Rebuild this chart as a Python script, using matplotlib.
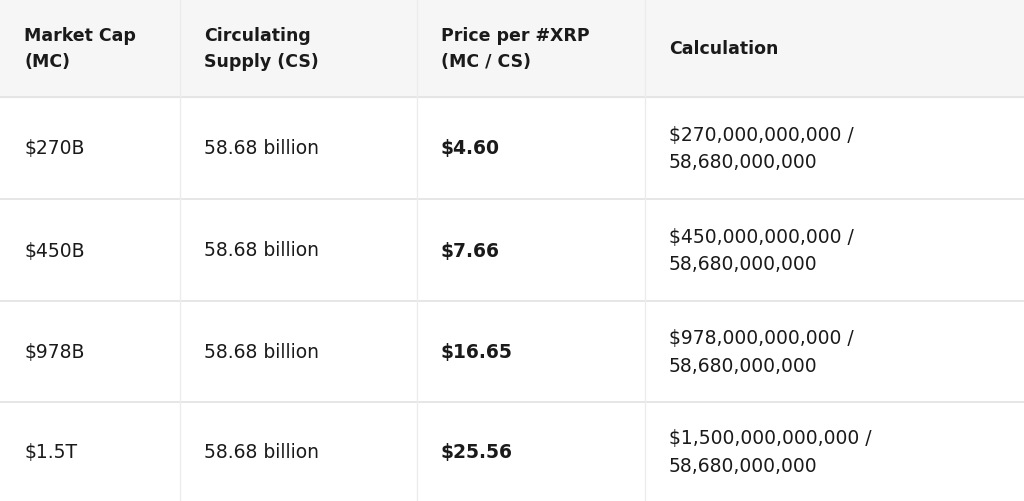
import matplotlib.pyplot as plt
from matplotlib.patches import Rectangle

headers = ["Market Cap\n(MC)", "Circulating\nSupply (CS)", "Price per #XRP\n(MC / CS)", "Calculation"]
market_caps = ["$270B", "$450B", "$978B", "$1.5T"]
supply = ["58.68 billion"] * 4
prices = ["$4.60", "$7.66", "$16.65", "$25.56"]
calcs = ["$270,000,000,000 /\n58,680,000,000", "$450,000,000,000 /\n58,680,000,000",
         "$978,000,000,000 /\n58,680,000,000", "$1,500,000,000,000 /\n58,680,000,000"]

W, H = 1024, 502
fig = plt.figure(figsize=(10.24, 5.02), dpi=100)
ax = fig.add_axes([0, 0, 1, 1])
ax.set_xlim(0, W); ax.set_ylim(H, 0); ax.axis("off")
fig.patch.set_facecolor("white")

col_x = [0, 180, 417, 645, W]
row_y = [0, 98, 200, 302, 403, H]
ax.add_patch(Rectangle((0, 0), W, 98, color="#f6f6f6", zorder=0))
for y in row_y[1:-1]:
    ax.plot([0, W], [y, y], color="#e2e2e2", lw=1.2)
for x in col_x[1:-1]:
    ax.plot([x, x], [0, H], color="#ececec", lw=1.0)

pad = 24
txt = "#1a1a1a"
for i, h in enumerate(headers):
    ax.text(col_x[i] + pad, 49, h, fontsize=12.5, fontweight="bold", va="center",
            ha="left", color=txt, linespacing=1.55, family="DejaVu Sans")
for r in range(4):
    yc = (row_y[r + 1] + row_y[r + 2]) / 2
    vals = [market_caps[r], supply[r], prices[r], calcs[r]]
    for c, v in enumerate(vals):
        ax.text(col_x[c] + pad, yc, v, fontsize=13.5, va="center", ha="left", color=txt,
                fontweight="bold" if c == 2 else "normal", linespacing=1.55,
                family="DejaVu Sans")
fig.savefig("out.png", dpi=100, facecolor="white")
